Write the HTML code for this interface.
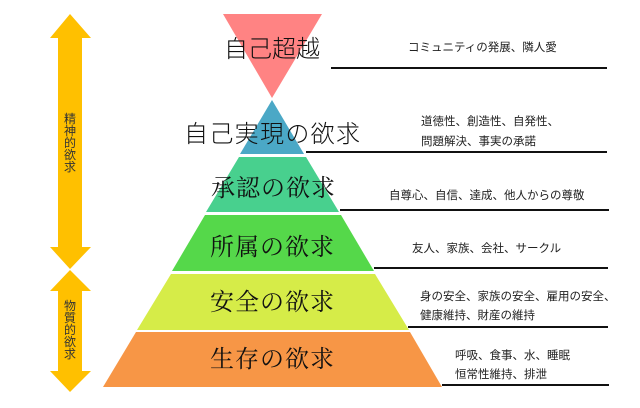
<!DOCTYPE html>
<html><head><meta charset="utf-8"><style>
html,body{margin:0;padding:0;background:#fff;}
svg{display:block;}
.big{font-family:"Noto Serif CJK SC","Noto Sans CJK JP",serif;font-size:24px;fill:#111;}
.bigs{font-family:"Noto Sans CJK JP",sans-serif;font-size:24px;fill:#111;font-weight:300;}
.sm{font-family:"Liberation Sans","Noto Sans CJK JP",sans-serif;font-size:11.5px;fill:#222;}
.v{font-family:"Noto Sans CJK JP",sans-serif;font-size:12px;fill:#333;}
</style></head><body>
<svg width="640" height="408" viewBox="0 0 640 408" xmlns="http://www.w3.org/2000/svg">
<!-- arrows -->
<polygon fill="#FFC000" points="70,14 91,38 82,38 82,247 91,247 70,269 50,247 58,247 58,38 50,38"/>
<polygon fill="#FFC000" points="70,270 91,291 82,291 82,371 91,371 70,392 50,371 58,371 58,291 50,291"/>
<text class="v" x="64" y="123">精</text>
<text class="v" x="64" y="135">神</text>
<text class="v" x="64" y="147">的</text>
<text class="v" x="64" y="159">欲</text>
<text class="v" x="64" y="171">求</text>
<text class="v" x="64" y="310">物</text>
<text class="v" x="64" y="322">質</text>
<text class="v" x="64" y="334">的</text>
<text class="v" x="64" y="346">欲</text>
<text class="v" x="64" y="358">求</text>
<!-- pyramid -->
<polygon fill="#FF8383" points="223,14 322,14 272,98"/>
<polygon fill="#4BA8C6" points="272,100 304,154 240,154"/>
<polygon fill="#48D08E" points="239,157 306,157 339,212 206,212"/>
<polygon fill="#55D84A" points="205,215 341,215 374,271 172,271"/>
<polygon fill="#D6EC48" points="171,274 375,274 409,330 137,330"/>
<polygon fill="#F79646" points="136,332 410,332 442,387 103,387"/>
<!-- lines -->
<g stroke="#111" stroke-width="2">
<line x1="331" y1="68" x2="607" y2="68"/>
<line x1="306" y1="152" x2="607" y2="152"/>
<line x1="340" y1="210" x2="609" y2="210"/>
<line x1="374" y1="268" x2="608" y2="268"/>
<line x1="408" y1="327" x2="608" y2="327"/>
<line x1="442" y1="385" x2="609" y2="385"/>
</g>
<!-- labels -->
<text class="bigs" x="272" y="57" text-anchor="middle" textLength="96">自己超越</text>
<text class="bigs" x="272" y="142" text-anchor="middle" textLength="176">自己実現の欲求</text>
<text class="big" x="273" y="196" text-anchor="middle" textLength="124">承認の欲求</text>
<text class="big" x="272" y="255" text-anchor="middle" textLength="124">所属の欲求</text>
<text class="big" x="272" y="310" text-anchor="middle" textLength="124">安全の欲求</text>
<text class="big" x="272" y="367" text-anchor="middle" textLength="124">生存の欲求</text>
<text class="sm" x="408" y="51">コミュニティの発展、隣人愛</text>
<text class="sm" x="421" y="125">道徳性、創造性、自発性、</text>
<text class="sm" x="421" y="145">問題解決、事実の承諾</text>
<text class="sm" x="389" y="199">自尊心、自信、達成、他人からの尊敬</text>
<text class="sm" x="412" y="252">友人、家族、会社、サークル</text>
<text class="sm" x="420" y="300">身の安全、家族の安全、雇用の安全、</text>
<text class="sm" x="420" y="319">健康維持、財産の維持</text>
<text class="sm" x="455" y="359">呼吸、食事、水、睡眠</text>
<text class="sm" x="455" y="378">恒常性維持、排泄</text>
</svg>
</body></html>
